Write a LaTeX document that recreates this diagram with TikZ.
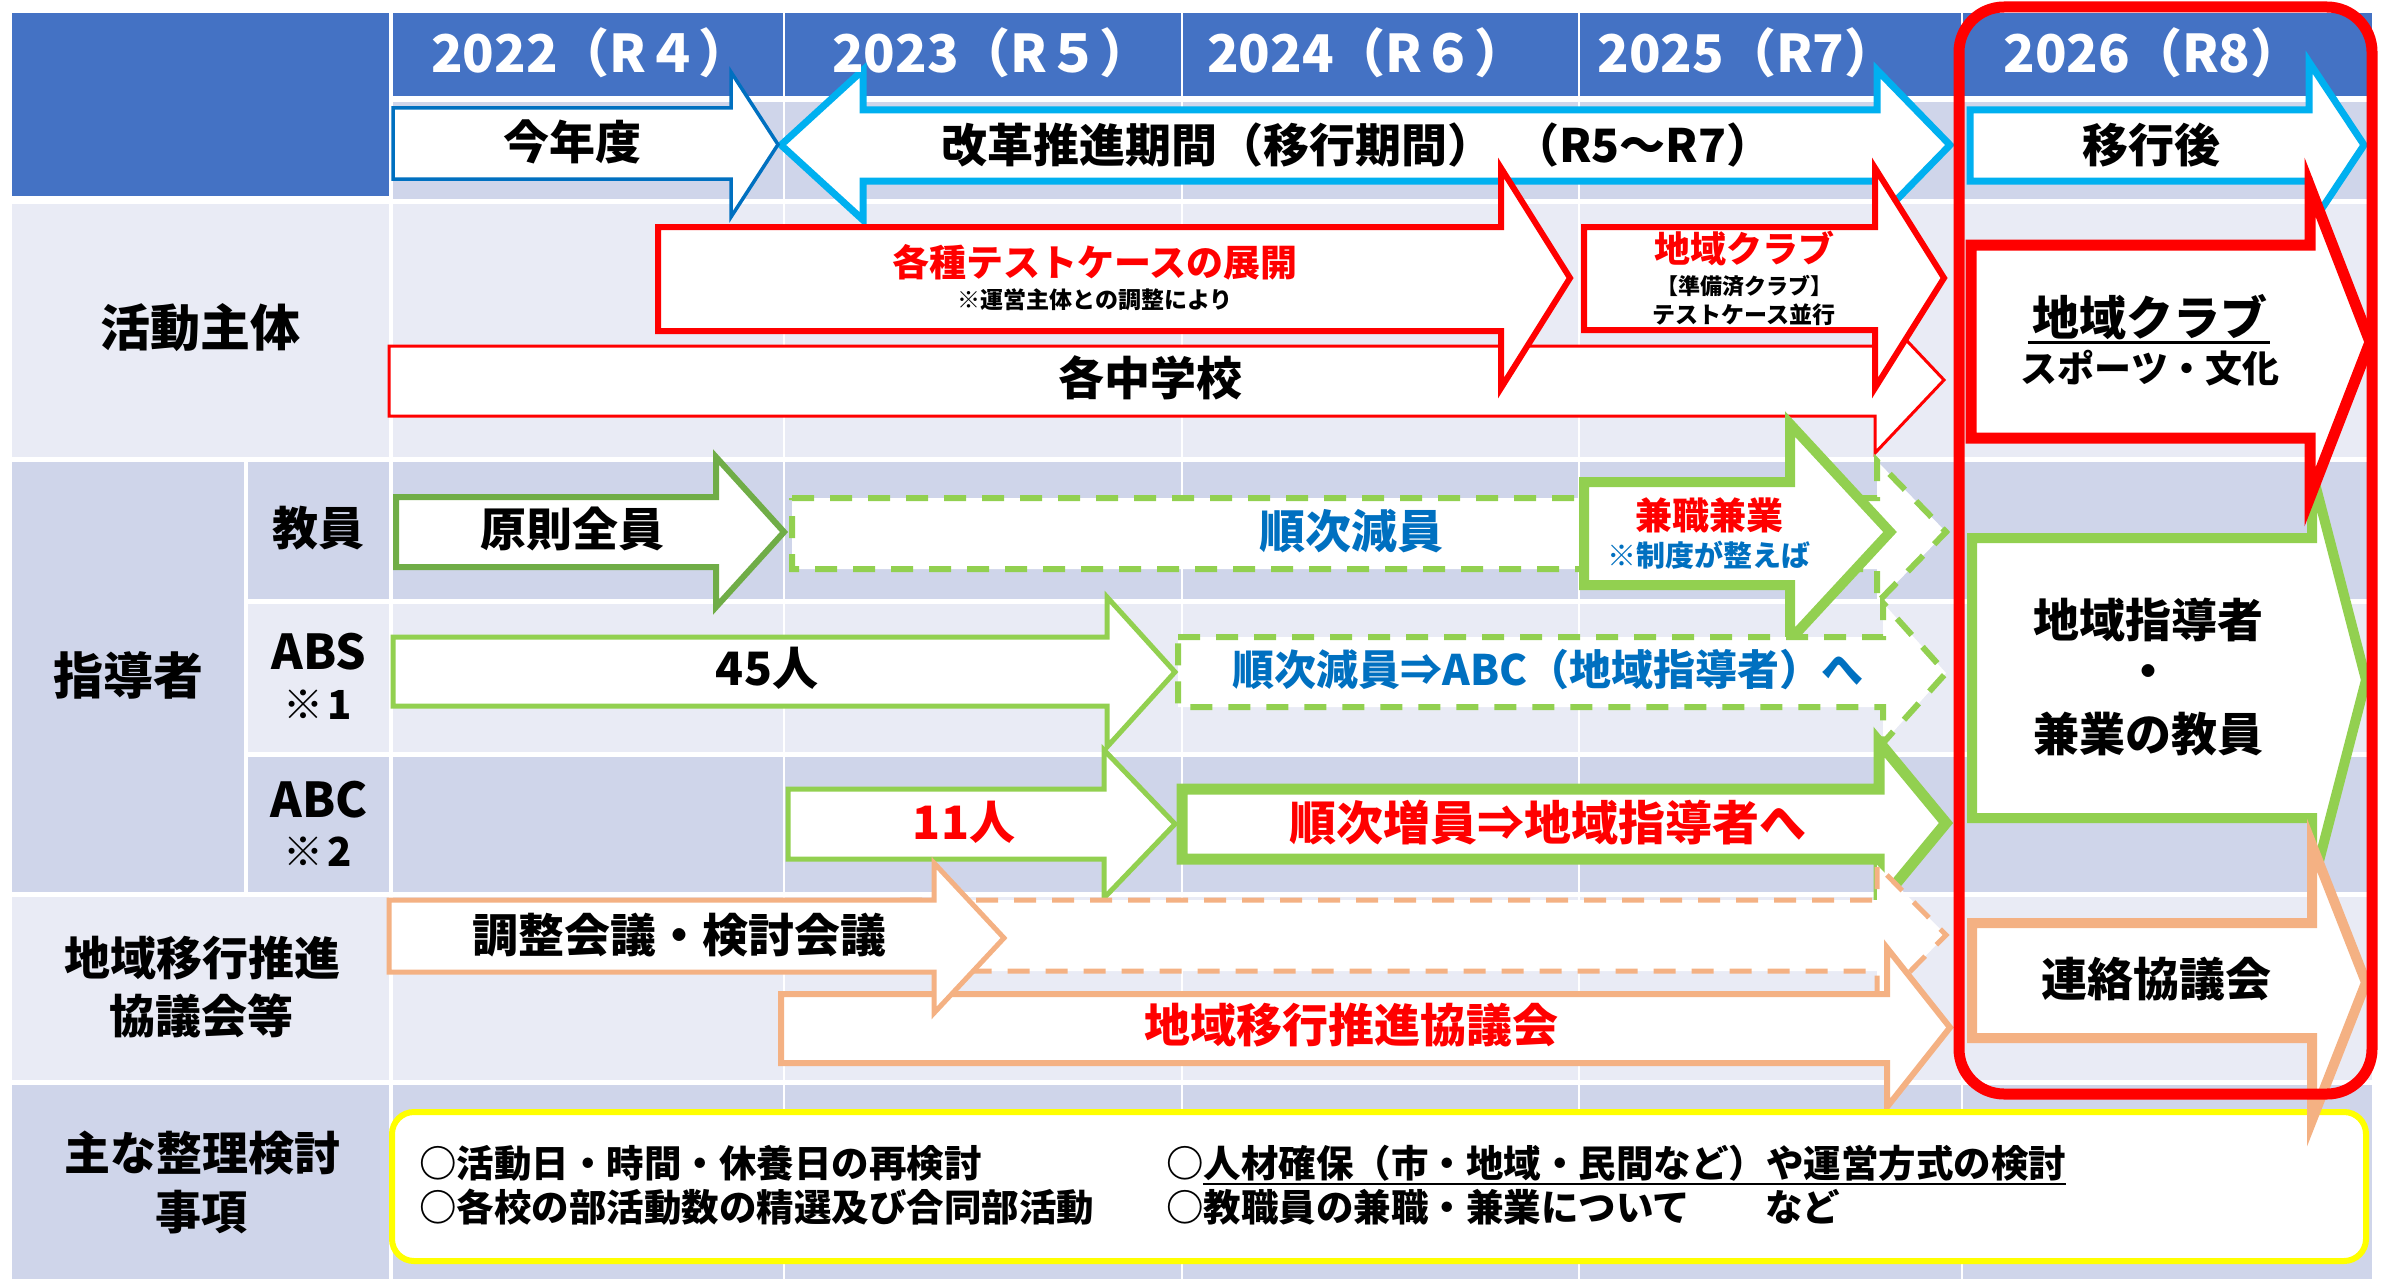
\documentclass[tikz,border=0pt]{standalone}
\usepackage{fontspec}
\setmainfont{Noto Sans CJK JP}
\definecolor{hdr}{HTML}{4472C4}
\definecolor{rowA}{HTML}{CFD5EA}
\definecolor{rowB}{HTML}{E9EBF5}
\definecolor{cyanL}{HTML}{00B0F0}
\definecolor{blueD}{HTML}{0070C0}
\definecolor{greenD}{HTML}{70AD47}
\definecolor{greenL}{HTML}{92D050}
\definecolor{orangeL}{HTML}{F4B183}
\definecolor{redC}{HTML}{FF0000}
\definecolor{yel}{HTML}{FFFF00}
\newcommand\myfs[1]{\fontsize{#1}{#1}\selectfont}
% style, xLeft, xBase, xTip, yTop, yBot, headTop, headBot
\newcommand\barrow[8]{\draw[#1] (#2,#5) -- (#3,#5) -- (#3,#7) -- (#4,{(#7+#8)/2}) -- (#3,#8) -- (#3,#6) -- (#2,#6) -- cycle;}
\tikzset{
  txt/.style={inner sep=0pt, anchor=center, font=\bfseries\myfs{#1}},
  txt/.default=46,
  yr/.style={inner sep=0pt, anchor=center, text=white, font=\bfseries\myfs{52}},
  gridline/.style={white, line width=2.5pt},
  solidarrow/.style={fill=white, line join=miter},
  dasharrow/.style={fill=white, dash pattern=on 22pt off 16pt},
}
\begin{document}
\begin{tikzpicture}[x=1pt,y=-1pt]
\useasboundingbox (0,0) rectangle (2392,1279);
% ---------- table background ----------
\fill[hdr] (12,13) rectangle (389,196);
\fill[hdr] (393,13) rectangle (2372,96);
\fill[rowA] (393,102) rectangle (2372,199);
\fill[rowB] (12,204) rectangle (2372,457);
\fill[rowA] (12,462) rectangle (244,892);
\fill[rowA] (248,462) rectangle (2372,599);
\fill[rowB] (248,604) rectangle (2372,752);
\fill[rowA] (248,757) rectangle (2372,892);
\fill[rowB] (12,897) rectangle (2372,1080);
\fill[rowA] (12,1085) rectangle (2372,1279);
\draw[white, line width=4pt] (391,13) -- (391,1279);
\foreach \gx in {784,1182,1579,1962} \draw[gridline] (\gx,13) -- (\gx,1279);
% ---------- header arrows ----------
\draw[solidarrow, draw=cyanL, line width=7pt] (781,145) -- (863,70) -- (863,110) -- (1877,110) -- (1877,70) -- (1950,145) -- (1877,220) -- (1877,181) -- (863,181) -- (863,220) -- cycle;
\barrow{solidarrow, draw=blueD, line width=3.5pt}{393}{731}{778}{108}{179}{72}{217}
\barrow{solidarrow, draw=cyanL, line width=7pt}{1970}{2309}{2364}{110}{181}{62}{228}
% ---------- 活動主体 ----------
\barrow{solidarrow, draw=redC, line width=3pt}{389}{1875}{1944}{346}{416}{307}{453}
\barrow{solidarrow, draw=redC, line width=6pt}{658}{1501}{1570}{227}{331}{168}{388}
\barrow{solidarrow, draw=redC, line width=6pt}{1584}{1875}{1944}{227}{330}{168}{388}
% ---------- 教員 ----------
\barrow{dasharrow, draw=greenL, line width=6pt}{792}{1877}{1946}{498}{569}{461}{603}
\barrow{solidarrow, draw=greenD, line width=6pt}{396}{716}{784}{497}{567}{457}{607}
\barrow{solidarrow, draw=greenL, line width=10pt}{1584}{1790}{1890}{482}{585}{424}{640}
% ---------- ABS ----------
\barrow{dasharrow, draw=greenL, line width=6pt}{1178}{1883}{1946}{637}{707}{603}{743}
\barrow{solidarrow, draw=greenL, line width=5pt}{393}{1107}{1175}{637}{706}{597}{747}
% ---------- ABC ----------
\barrow{solidarrow, draw=greenL, line width=11pt}{1182}{1879}{1946}{789}{859}{742}{904}
\barrow{solidarrow, draw=greenL, line width=5pt}{788}{1104}{1175}{789}{859}{750}{898}
% ---------- 地域移行推進協議会等 ----------
\barrow{dasharrow, draw=orangeL, line width=5pt}{900}{1877}{1946}{900}{971}{865}{1005}
\barrow{solidarrow, draw=orangeL, line width=6pt}{781}{1887}{1950}{994}{1063}{948}{1107}
\barrow{solidarrow, draw=orangeL, line width=5pt}{389}{934}{1004}{900}{972}{863}{1013}
% ---------- 主な整理検討事項 ----------
\draw[yel, line width=6pt, fill=white, rounded corners=22pt] (392,1112) rectangle (2366,1261);
% ---------- 2026 column ----------
\barrow{solidarrow, draw=greenL, line width=10pt}{1972}{2312}{2366}{538}{818}{472}{888}
\barrow{solidarrow, draw=redC, line width=11pt}{1971}{2310}{2370}{245}{438}{187}{497}
\barrow{solidarrow, draw=orangeL, line width=10pt}{1972}{2312}{2366}{923}{1038}{845}{1120}
\draw[redC, line width=11pt, rounded corners=45pt] (1959,7) rectangle (2372,1094);
% ---------- texts ----------
\node[yr] (y22) at (591,53) {2022（R４）};
\node[yr] (y23) at (992,53) {2023（R５）};
\node[yr] (y24) at (1367,53) {2024（R６）};
\node[yr] (y25) at (1747,53) {2025（R7）};
\node[yr] (y26) at (2153,53) {2026（R8）};
\node[txt] (t1) at (572,142) {今年度};
\node[txt] (t2) at (1357,145) {改革推進期間（移行期間）\hspace{20pt}（R5～R7）};
\node[txt] (t3) at (2151,145) {移行後};
\node[txt=50] (l1) at (200,328) {活動主体};
\node[txt=37, text=redC] (a1) at (1095,262) {各種テストケースの展開};
\node[txt=23] (a2) at (1095,300) {※運営主体との調整により};
\node[txt=36, text=redC] (a3) at (1744,248) {地域クラブ};
\node[txt=22] (a4) at (1744,286) {【準備済クラブ】};
\node[txt=23] (a5) at (1744,315) {テストケース並行};
\node[txt] (a6) at (1150,378) {各中学校};
\node[txt=47] (a7) at (2150,317) {地域クラブ};
\draw[line width=3pt] (2028,342) -- (2270,342);
\node[txt=37] (a8) at (2150,368) {スポーツ・文化};
\node[txt=50] (l2) at (128,675) {指導者};
\node[txt] (l3) at (318,528) {教員};
\node[txt=48] (l4) at (319,652) {ABS};
\node[txt=40] (l5) at (318,705) {※\hspace{4pt}1};
\node[txt=48] (l6) at (319,800) {ABC};
\node[txt=40] (l7) at (318,852) {※\hspace{4pt}2};
\node[txt] (b1) at (572,529) {原則全員};
\node[txt, text=blueD] (b2) at (1351,531) {順次減員};
\node[txt=37, text=redC] (b3) at (1709,515) {兼職兼業};
\node[txt=29, text=blueD] (b4) at (1709,555) {※制度が整えば};
\node[txt] (b5) at (767,668) {45人};
\node[txt=42, text=blueD] (b6) at (1548,670) {順次減員⇒ABC（地域指導者）へ};
\node[txt, text=redC] (b7) at (964,822) {11人};
\node[txt=47, text=redC] (b8) at (1548,823) {順次増員⇒地域指導者へ};
\node[txt] (b9) at (2148,620) {地域指導者};
\node[txt] (b10) at (2148,677) {・};
\node[txt] (b11) at (2148,734) {兼業の教員};
\node[txt] (l8) at (202,958) {地域移行推進};
\node[txt] (l9) at (201,1016) {協議会等};
\node[txt] (c1) at (679,935) {調整会議・検討会議};
\node[txt, text=redC] (c2) at (1351,1025) {地域移行推進協議会};
\node[txt] (c3) at (2156,979) {連絡協議会};
\node[txt] (l10) at (202,1153) {主な整理検討};
\node[txt] (l11) at (201,1212) {事項};
\node[txt=37.5, anchor=west] (d1) at (419,1163) {○活動日・時間・休養日の再検討};
\node[txt=37.5, anchor=west] (d2) at (419,1207) {○各校の部活動数の精選及び合同部活動};
\node[txt=37.5, anchor=west] (d3) at (1166,1163) {○人材確保（市・地域・民間など）や運営方式の検討};
\draw[line width=2.5pt] (1203,1184) -- (d3.east |- 0,1184);
\node[txt=37.5, anchor=west] (d4) at (1166,1207) {○教職員の兼職・兼業について　　など};
\end{tikzpicture}
\end{document}
